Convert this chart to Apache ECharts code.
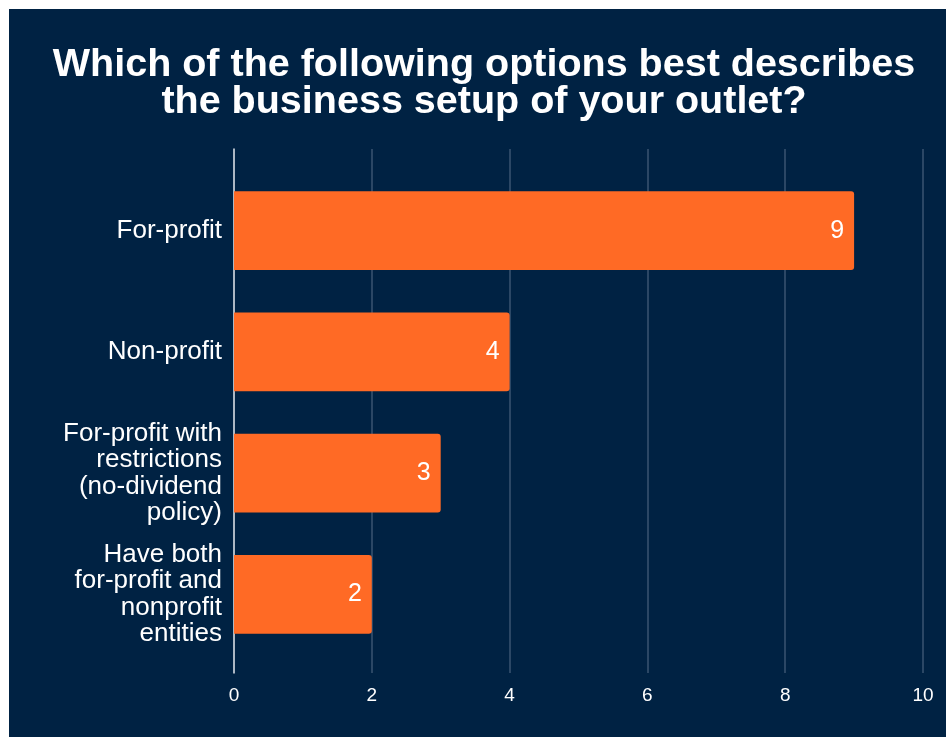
<!DOCTYPE html>
<html>
<head>
<meta charset="utf-8">
<script src="https://cdn.jsdelivr.net/npm/echarts@6/dist/echarts.min.js"></script>
<style>
  html, body { margin: 0; padding: 0; background: #fff; }
  #chart {
    position: absolute;
    left: 9px;
    top: 9px;
    width: 937px;
    height: 728px;
    background: #002243;
  }
</style>
</head>
<body>
<div id="chart"></div>
<script>
// 数据
var titleText = "Which of the following options best describes\nthe business setup of your outlet?";
var categories = [
  "For-profit",
  "Non-profit",
  "For-profit with\nrestrictions\n(no-dividend\npolicy)",
  "Have both\nfor-profit and\nnonprofit\nentities"
];
var counts = [9, 4, 3, 2];
var axisMin = 0;
var axisMax = 10;
var axisStep = 2;

var chart = echarts.init(document.getElementById("chart"));

var option = {
  backgroundColor: "#002243",
  textStyle: { fontFamily: "Liberation Sans, Arial, sans-serif" },
  title: {
    text: titleText,
    left: 470,
    top: 33,
    textAlign: "center",
    textStyle: {
      color: "#ffffff",
      fontSize: 39.5,
      fontWeight: "bold",
      lineHeight: 37
    }
  },
  grid: [
    // 外框：网格线和坐标轴
    { left: 225, right: 23, top: 140, bottom: 64 },
    // 柱子
    { left: 225, right: 23, top: 161, bottom: 82 }
  ],
  xAxis: [
    {
      gridIndex: 0,
      type: "value",
      min: axisMin,
      max: axisMax,
      interval: axisStep,
      axisLine: { show: false },
      axisTick: { show: false },
      splitLine: { show: true, lineStyle: { color: "#3a5470", width: 1.5 } },
      axisLabel: { color: "#ffffff", fontSize: 19, margin: 13 }
    },
    {
      gridIndex: 1,
      type: "value",
      min: axisMin,
      max: axisMax,
      show: false
    }
  ],
  yAxis: [
    {
      gridIndex: 0,
      type: "category",
      data: categories,
      axisLine: { show: true, lineStyle: { color: "#d8dde3", width: 1.5 } },
      axisTick: { show: false },
      axisLabel: { show: false },
      splitLine: { show: false }
    },
    {
      gridIndex: 1,
      type: "category",
      data: categories,
      inverse: true,
      axisLine: { show: false },
      axisTick: { show: false },
      axisLabel: {
        color: "#ffffff",
        fontSize: 26,
        lineHeight: 26.5,
        margin: 12,
        align: "right"
      }
    }
  ],
  series: [
    {
      type: "bar",
      xAxisIndex: 1,
      yAxisIndex: 1,
      data: counts,
      barCategoryGap: "35%",
      itemStyle: {
        color: "#ff6a25",
        borderRadius: [0, 3, 3, 0]
      },
      label: {
        show: true,
        position: "insideRight",
        distance: 10,
        color: "#ffffff",
        fontSize: 25
      }
    }
  ]
};

chart.setOption(option);
</script>
</body>
</html>
